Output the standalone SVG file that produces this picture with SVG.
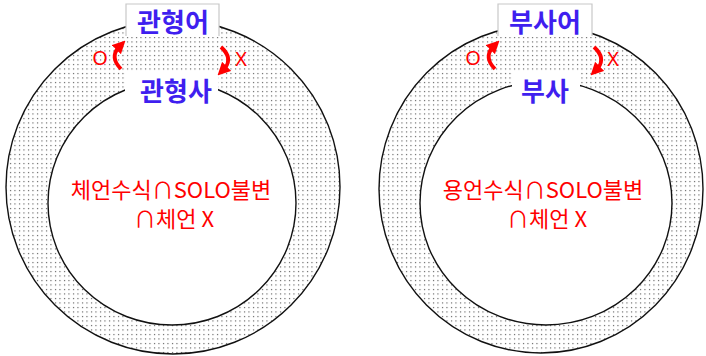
<svg xmlns="http://www.w3.org/2000/svg" width="706" height="356" viewBox="0 0 706 356">
<defs>
<pattern id="dots" width="4.5" height="4.5" patternUnits="userSpaceOnUse">
<rect x="1" y="1" width="1" height="1" fill="#222"/>
</pattern>
<marker id="ah" viewBox="0 0 10 10" refX="4" refY="5" markerWidth="3.4" markerHeight="3.4" orient="auto">
<path d="M0,0 L10,5 L0,10 z" fill="#ff0000"/>
</marker>
<style>
.ring{fill:url(#dots);fill-rule:evenodd;stroke:#111;stroke-width:1.4}
.lbl{font-family:"Noto Sans CJK KR","Noto Sans",sans-serif;font-weight:bold;font-size:26px;fill:#3f1fef;text-anchor:middle}
.mid{font-family:"Noto Sans CJK KR","Noto Sans",sans-serif;font-size:22px;fill:#ff0000;text-anchor:middle}
.ox{font-family:"Noto Sans","DejaVu Sans",sans-serif;font-size:20px;fill:#ff0000;text-anchor:middle}
.arr{fill:none;stroke:#ff0000;stroke-width:3.8;marker-end:url(#ah)}
.box{fill:#fff;stroke:none}
.boxline{fill:none;stroke:#c8c8c8;stroke-width:1.2}
</style>
</defs>
<g id="left-ring">
<path class="ring" d="M6,187 a167,167 0 1,0 334,0 a167,167 0 1,0 -334,0 Z M48,203 a124,122 0 1,0 248,0 a124,122 0 1,0 -248,0 Z"/>
</g>
<g id="right-ring">
<path class="ring" d="M379,189 a162,164 0 1,0 324,0 a162,164 0 1,0 -324,0 Z M420,203 a126,122 0 1,0 252,0 a126,122 0 1,0 -252,0 Z"/>
</g>
<g id="left-top">
<rect class="box" x="126" y="4" width="93" height="33"/>
<path class="boxline" d="M126,36 V4 H219 V36"/>
<text class="lbl" x="173" y="32">관형어</text>
</g>
<g id="left-inner">
<rect class="box" x="125" y="72" width="93" height="38"/>
<text class="lbl" x="176" y="101">관형사</text>
</g>
<g id="right-top">
<rect class="box" x="498" y="4" width="94" height="33"/>
<path class="boxline" d="M498,36 V4 H592 V36"/>
<text class="lbl" x="545" y="32">부사어</text>
</g>
<g id="right-inner">
<rect class="box" x="512" y="72" width="68" height="38"/>
<text class="lbl" x="545" y="101">부사</text>
</g>
<g id="connectors">
<path class="arr" d="M121,69 Q110,58 118,48 L120,46"/>
<text class="ox" x="100" y="65">O</text>
<path class="arr" d="M221,47 Q233,58 225,68 L223,70"/>
<text class="ox" x="241" y="66">X</text>
<path class="arr" d="M495,69 Q484,58 492,48 L494,46"/>
<text class="ox" x="473" y="65">O</text>
<path class="arr" d="M594,47 Q606,58 598,68 L596,70"/>
<text class="ox" x="613" y="66">X</text>
</g>
<g id="left-center">
<text class="mid" x="171" y="198">체언수식∩SOLO불변</text>
<text class="mid" x="174" y="227">∩체언 X</text>
</g>
<g id="right-center">
<text class="mid" x="543" y="198">용언수식∩SOLO불변</text>
<text class="mid" x="547" y="227">∩체언 X</text>
</g>
</svg>
